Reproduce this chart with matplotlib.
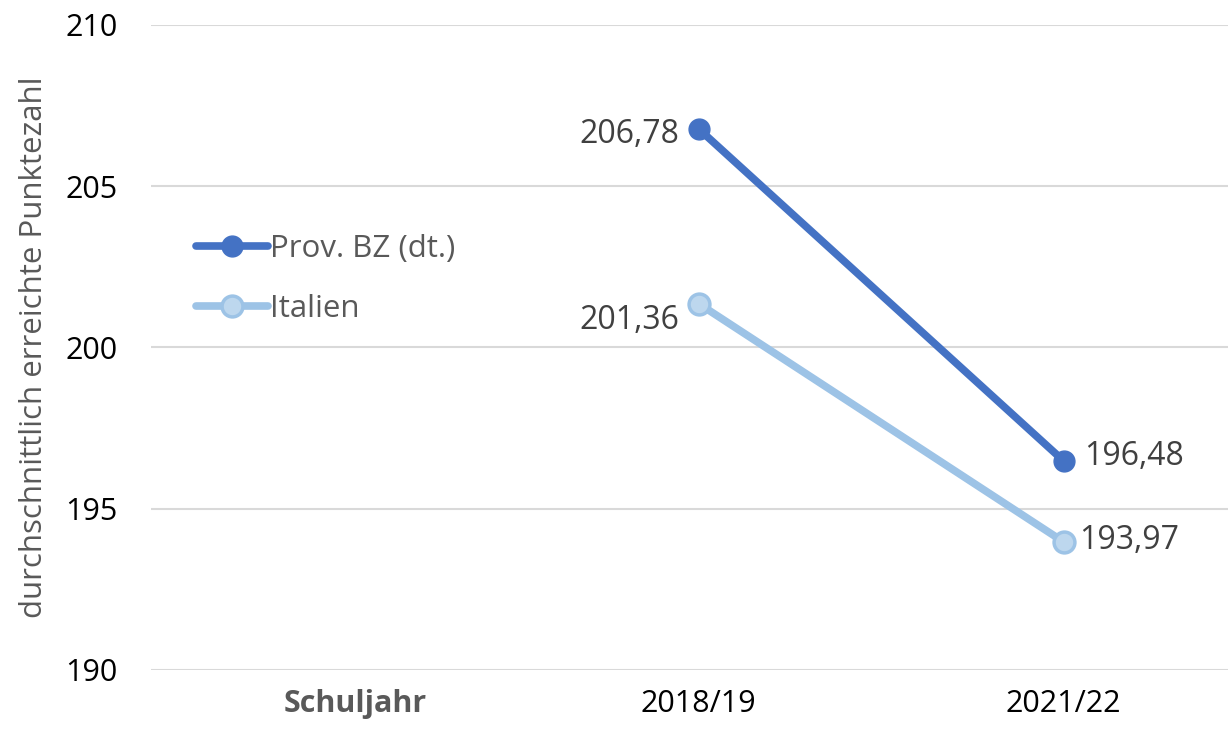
import numpy as np
import matplotlib.pyplot as plt
import matplotlib.transforms as mtransforms

plt.rcParams['font.family'] = ['Open Sans', 'DejaVu Sans']

categories = ['Schuljahr', '2018/19', '2021/22']
years = ['2018/19', '2021/22']
bz_values = [206.78, 196.48]
it_values = [201.36, 193.97]
y_ticks = [190, 195, 200, 205, 210]

dark = '#4472C4'
light = '#9DC3E6'
light_face = '#BDD7EE'

fig = plt.figure(figsize=(12.28, 7.34), dpi=100)
ax = fig.add_axes([0.123, 0.0872, 0.877, 0.8788])

x = np.arange(1, len(years) + 1)
ax.plot(x, bz_values, color=dark, lw=5.5, marker='o', ms=15,
        mfc=dark, mec=dark, label='Prov. BZ (dt.)', solid_capstyle='round', zorder=3)
ax.plot(x, it_values, color=light, lw=5.5, marker='o', ms=15,
        mfc=light_face, mec=light, mew=2.5, label='Italien', solid_capstyle='round', zorder=3)

def fmt(v):
    return ('%.2f' % v).replace('.', ',')

lbl = dict(fontsize=23, color='#404040', textcoords='offset points', va='center')
ax.annotate(fmt(bz_values[0]), (x[0], bz_values[0]), xytext=(-14, -4), ha='right', **lbl)
ax.annotate(fmt(it_values[0]), (x[0], it_values[0]), xytext=(-14, -12), ha='right', **lbl)
ax.annotate(fmt(bz_values[1]), (x[1], bz_values[1]), xytext=(15, 3), ha='left', **lbl)
ax.annotate(fmt(it_values[1]), (x[1], it_values[1]), xytext=(11, 1), ha='left', **lbl)

ax.set_ylim(190, 210)
ax.set_yticks(y_ticks)
ax.set_xlim(-0.5, 2.45)
ax.set_xticks(range(len(categories)))
ax.set_xticklabels(categories)
ax.grid(axis='y', color='#D9D9D9', lw=1.5)
ax.set_axisbelow(True)
for s in ax.spines.values():
    s.set_visible(False)
ax.tick_params(axis='both', length=0, labelsize=22, colors='black')
ax.tick_params(axis='y', pad=24)
ax.tick_params(axis='x', pad=14)

lab0 = ax.get_xticklabels()[0]
lab0.set_fontweight('bold')
lab0.set_color('#595959')
lab0.set_transform(lab0.get_transform() + mtransforms.ScaledTranslation(0.22, 0, fig.dpi_scale_trans))

ax.set_ylabel('durchschnittlich erreichte Punktezahl', fontsize=22.5, color='#595959', labelpad=12)

leg = ax.legend(loc='upper left', bbox_to_anchor=(0.03, 0.695), frameon=False, fontsize=22.5,
                handlelength=2.3, handletextpad=0.06, labelspacing=0.95, borderaxespad=0)
for t in leg.get_texts():
    t.set_color('#595959')

fig.savefig('out.png', dpi=100)
